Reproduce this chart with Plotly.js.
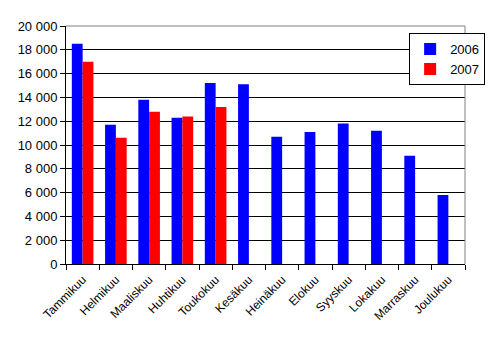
<!DOCTYPE html>
<html><head><meta charset="utf-8">
<script src="https://cdn.plot.ly/plotly-3.0.1.min.js"></script>
<style>html,body{margin:0;padding:0;background:#fff}</style>
</head><body><div id="chart" style="width:497px;height:338px"></div>
<script>
const months = ["Tammikuu","Helmikuu","Maaliskuu","Huhtikuu","Toukokuu","Kesäkuu","Heinäkuu","Elokuu","Syyskuu","Lokakuu","Marraskuu","Joulukuu"];
const values2006 = [18500, 11700, 13800, 12300, 15200, 15100, 10700, 11100, 11800, 11200, 9100, 5800];
const values2007 = [17000, 10600, 12800, 12400, 13200, null, null, null, null, null, null, null];

const traces = [
  {type:"bar", name:"2006", x:months, y:values2006, marker:{color:"#0000ff"}},
  {type:"bar", name:"2007", x:months, y:values2007, marker:{color:"#ff0000"}}
];
const layout = {
  width:497, height:338,
  margin:{l:66, r:15, t:26, b:74},
  paper_bgcolor:"#fff", plot_bgcolor:"#fff",
  font:{family:"Liberation Sans, Arial, sans-serif", size:12, color:"#000"},
  separators:", ",
  barmode:"group", bargap:0.35, bargroupgap:0,
  showlegend:true
};
layout.legend = {x:0.86, y:0.97, xanchor:"left", yanchor:"top", bgcolor:"#fff", bordercolor:"#000", borderwidth:1, font:{size:13}, tracegroupgap:2, itemwidth:30};
layout.xaxis = {type:"category", tickson:"boundaries", ticks:"outside", ticklen:5, tickcolor:"#000", showline:true, linecolor:"#000", linewidth:1, showgrid:false, tickangle:-45, tickfont:{size:12}, ticklabelstandoff:3, fixedrange:true};
layout.yaxis = {range:[0,20000], dtick:2000, tickformat:",d", ticks:"outside", ticklen:5, tickcolor:"#000", showline:true, linecolor:"#000", linewidth:1, showgrid:true, gridcolor:"#000", gridwidth:1, zeroline:false, tickfont:{size:13}, fixedrange:true};
layout.shapes = [
  {type:"line", xref:"paper", yref:"paper", x0:0, x1:1, y0:1, y1:1, line:{color:"#808080", width:1}},
  {type:"line", xref:"paper", yref:"paper", x0:1, x1:1, y0:0, y1:1, line:{color:"#808080", width:1}}
];
Plotly.newPlot("chart", traces, layout, {displayModeBar:false, staticPlot:true});
</script></body></html>
